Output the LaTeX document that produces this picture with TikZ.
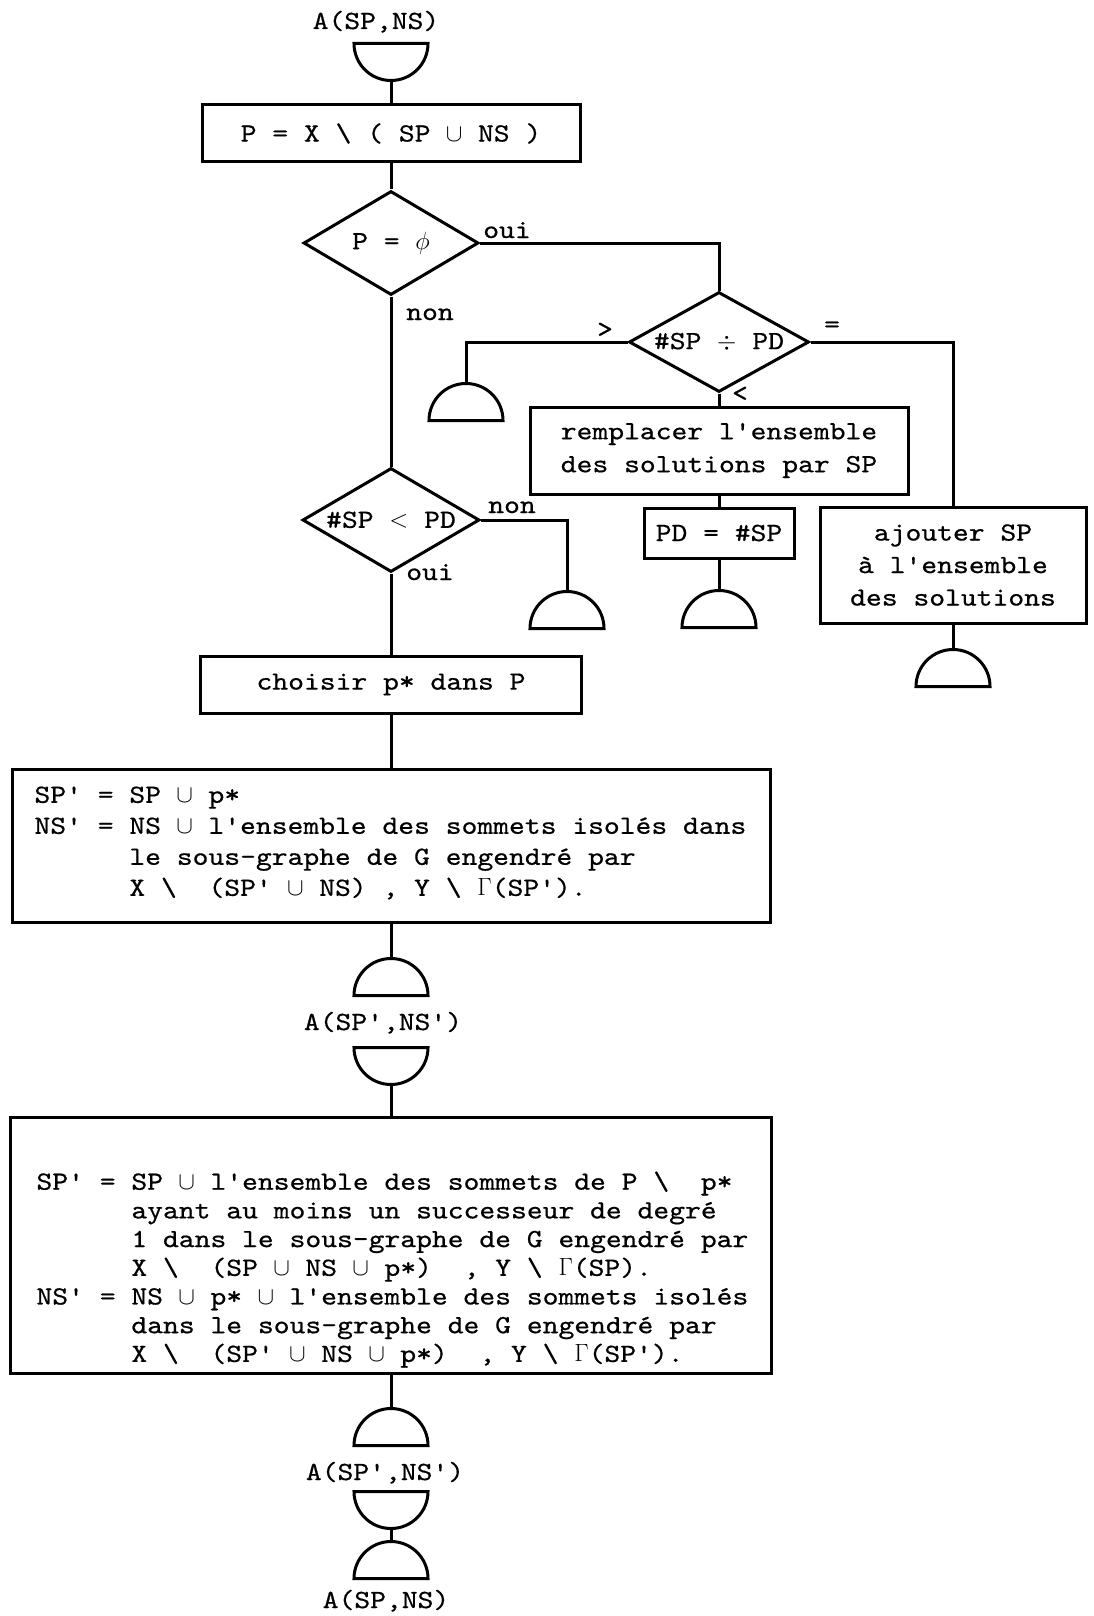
\documentclass[tikz,border=0pt]{standalone}
\usepackage{fontspec}
\usetikzlibrary{shapes.geometric}
\newfontfamily\tw[FakeStretch=1.15,FakeBold=0.6,WordSpace={1,0,0},HyphenChar=None]{lmmono10-regular.otf}
\newcommand{\typer}{\tw\fontsize{26.2pt}{31pt}\selectfont}
\newcommand{\union}{\hbox to \fontcharwd\font`\x{\hss$\cup$\hss}}
\newcommand{\bs}{\textbackslash}
\newcommand{\ind}{\hspace*{6\fontcharwd\font`\x}}

\tikzset{
  proc/.style={
    draw,
    rectangle,
    inner sep=0pt,
    align=center
  },
  test/.style={
    draw,
    diamond,
    aspect=1.7,
    inner sep=0pt
  },
  plug/.style={
    draw,
    semicircle,
    minimum width=74,
    inner sep=0pt,
    anchor=chord center
  },
  socket/.style={
    plug,
    shape border rotate=180
  },
  tag/.style={inner sep=0pt, anchor=base},
  sign/.style={inner sep=0pt},
  lines/.style={inner sep=0pt, align=left, anchor=north west},
}

\begin{document}
\begin{tikzpicture}[x=1pt, y=-1pt, line width=3pt, every node/.style={font=\typer}]
  \useasboundingbox (0,0) rectangle (1094,1616);
  \node[tag] (a0) at (376,29) {A(SP,NS)};
  \node[socket] (s0) at (391,42) {};
  \node[proc, minimum width=378, minimum height=57] (b1) at (391,133.5) {P = X \bs\ ( SP \union\ NS )};
  \node[test, minimum width=175, minimum height=104] (d1) at (391,243) {P = $\phi$};
  \node[tag] (l1) at (507,238) {oui};
  \node[tag] (l2) at (430,320) {non};
  \node[test, minimum width=180, minimum height=100] (d2) at (719,342) {\#SP $\div$ PD};
  \node[sign] (gt) at (605,330) {>};
  \node[sign] (eq) at (832,327) {=};
  \node[sign] (lt) at (740,394) {<};
  \node[plug] (sL) at (466,422) {};
  \node[proc, minimum width=378, minimum height=87, font={\tw\fontsize{26.2pt}{33pt}\selectfont}] (b2) at (719,450.5) {remplacer l'ensemble\\des solutions par SP};
  \node[proc, minimum width=150, minimum height=50] (b3) at (719,533) {PD = \#SP};
  \node[plug] (sP) at (719,629) {};
  \node[proc, minimum width=266, minimum height=116, font={\tw\fontsize{26.2pt}{32.5pt}\selectfont}] (b4) at (953,565) {ajouter SP\\à l'ensemble\\des solutions};
  \node[plug] (sQ) at (953,688) {};
  \node[test, minimum width=177, minimum height=104] (d3) at (391,520) {\#SP $<$ PD};
  \node[tag] (l3) at (512,513) {non};
  \node[tag] (l4) at (430,580) {oui};
  \node[plug] (sN) at (567,630) {};
  \node[proc, minimum width=381, minimum height=57] (b5) at (391,684.5) {choisir p* dans P};
  \node[proc, minimum width=758, minimum height=153] (b6) at (391,845.5) {};
  \node[lines] (t6) at (33,785) {SP' = SP \union\ p*\\
    NS' = NS \union\ l'ensemble des sommets isolés dans\\
    \ind le sous-graphe de G engendré par\\
    \ind X \bs\ \ (SP' \union\ NS) , Y \bs\ $\Gamma$(SP').};
  \node[plug] (s1) at (391,997) {};
  \node[tag] (a1) at (383,1030) {A(SP',NS')};
  \node[socket] (s2) at (391,1046) {};
  \node[proc, minimum width=761, minimum height=256] (b7) at (391,1245) {};
  \node[lines, font={\tw\fontsize{26.2pt}{28.7pt}\selectfont}] (t7) at (35,1170) {SP' = SP \union\ l'ensemble des sommets de P \bs\ \ p*\\
    \ind ayant au moins un successeur de degré\\
    \ind 1 dans le sous-graphe de G engendré par\\
    \ind X \bs\ \ (SP \union\ NS \union\ p*) \ , Y \bs\ $\Gamma$(SP).\\
    NS' = NS \union\ p* \union\ l'ensemble des sommets isolés\\
    \ind dans le sous-graphe de G engendré par\\
    \ind X \bs\ \ (SP' \union\ NS \union\ p*) \ , Y \bs\ $\Gamma$(SP').};
  \node[plug] (s3) at (391,1447) {};
  \node[tag] (a2) at (385,1480) {A(SP',NS')};
  \node[socket] (s4) at (391,1490) {};
  \node[plug] (s5) at (391,1580) {};
  \node[tag] (a3) at (386,1608) {A(SP,NS)};
  \draw (s0.apex) -- (b1.north);
  \draw (b1.south) -- (d1.north);
  \draw (d1.east) -| (d2.north);
  \draw (d2.west) -| (sL.apex);
  \draw (d2.east) -| (b4.north);
  \draw (d2.south) -- (b2.north);
  \draw (b2.south) -- (b3.north);
  \draw (b3.south) -- (sP.apex);
  \draw (b4.south) -- (sQ.apex);
  \draw (d1.south) -- (d3.north);
  \draw (d3.east) -| (sN.apex);
  \draw (d3.south) -- (b5.north);
  \draw (b5.south) -- (b6.north);
  \draw (b6.south) -- (s1.apex);
  \draw (s2.apex) -- (b7.north);
  \draw (b7.south) -- (s3.apex);
  \draw (s4.apex) -- (s5.apex);
\end{tikzpicture}
\end{document}
